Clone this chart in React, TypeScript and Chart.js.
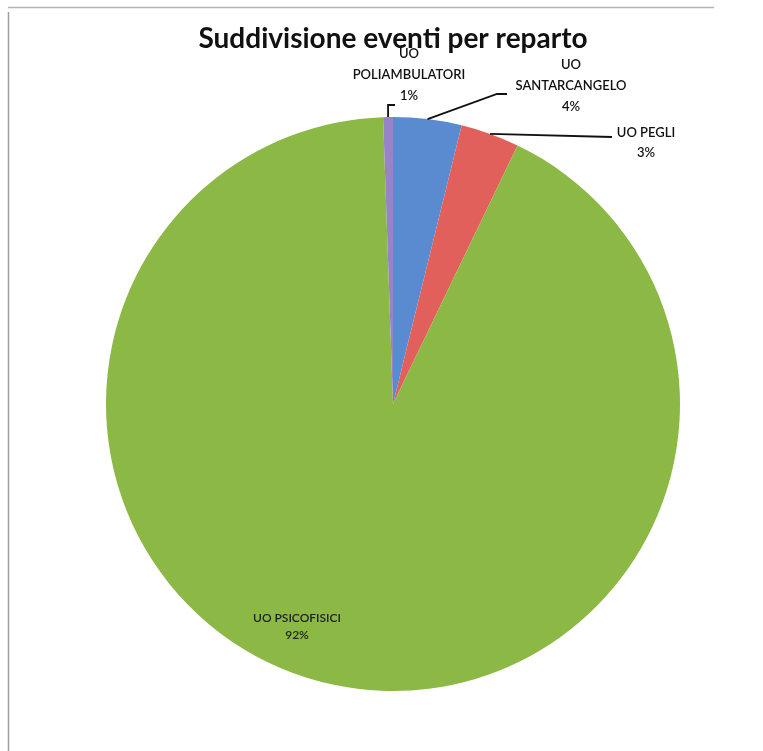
import React, { useEffect, useRef } from "react";
import { Chart, registerables } from "chart.js";

Chart.register(...registerables);

const categories = ["UO SANTARCANGELO", "UO PEGLI", "UO PSICOFISICI", "UO POLIAMBULATORI"];
const values = [7, 6, 168, 1];
const sliceColors = ["#5A8BD1", "#E2605B", "#8CB946", "#9684C6"];
const chartTitle = "Suddivisione eventi per reparto";

export default function App() {
  const ref = useRef<HTMLCanvasElement | null>(null);

  useEffect(() => {
    if (!ref.current) return;
    const total = values.reduce((a, b) => a + b, 0);
    const pct = values.map((v) => Math.round((v / total) * 100) + "%");

    // label layout (text placement & leader routing)
    const labelLayout: any[] = [
      { lines: ["UO", "SANTARCANGELO"], cx: 571, y0: 65, dy: 21, size: 13, leader: [[497, 94], [507, 94]] },
      { lines: ["UO PEGLI"], cx: 646, y0: 133, dy: 20, size: 13, leader: [[612, 137]] },
      { lines: ["UO PSICOFISICI"], cx: 297, y0: 618, dy: 17, size: 12, leader: null },
      { lines: ["UO", "POLIAMBULATORI"], cx: 409, y0: 54, dy: 21, size: 13, leader: "poli" },
    ];

    const annot = {
      id: "annot",
      afterDraw(chart: any) {
        const ctx = chart.ctx as CanvasRenderingContext2D;
        ctx.save();
        // scanned frame lines
        ctx.strokeStyle = "#b4b4b4";
        ctx.lineWidth = 1.5;
        ctx.beginPath();
        ctx.moveTo(8, 7.5);
        ctx.lineTo(714, 7.5);
        ctx.stroke();
        ctx.strokeStyle = "#a0a0a0";
        ctx.beginPath();
        ctx.moveTo(8.5, 12);
        ctx.lineTo(8.5, 751);
        ctx.stroke();

        const meta = chart.getDatasetMeta(0);
        meta.data.forEach((arc: any, i: number) => {
          const p = arc.getProps(["x", "y", "startAngle", "endAngle", "outerRadius"], true);
          const mid = (p.startAngle + p.endAngle) / 2;
          const ex = p.x + Math.cos(mid) * p.outerRadius;
          const ey = p.y + Math.sin(mid) * p.outerRadius;
          const L = labelLayout[i];
          if (L.leader) {
            ctx.strokeStyle = "#111";
            ctx.lineWidth = 1.8;
            ctx.beginPath();
            ctx.moveTo(ex, ey);
            if (L.leader === "poli") {
              ctx.lineTo(ex, 105);
              ctx.lineTo(ex + 7, 105);
            } else {
              L.leader.forEach((pt: number[]) => ctx.lineTo(pt[0], pt[1]));
            }
            ctx.stroke();
          }
          const lines = [...L.lines, pct[i]];
          ctx.fillStyle = i === 2 ? "#222" : "#111";
          ctx.font = `600 ${L.size}px Lato`;
          ctx.textAlign = "center";
          ctx.textBaseline = "middle";
          lines.forEach((t: string, k: number) => ctx.fillText(t, L.cx, L.y0 + k * L.dy));
        });

        // title
        ctx.fillStyle = "#111";
        ctx.font = "bold 28px Lato";
        ctx.textAlign = "center";
        ctx.textBaseline = "middle";
        ctx.fillText(chartTitle, 393, 39);
        ctx.restore();
      },
    };

    const chart = new Chart(ref.current, {
      type: "pie",
      data: {
        labels: categories,
        datasets: [
          {
            data: values,
            backgroundColor: sliceColors,
            borderWidth: 0,
          },
        ],
      },
      options: {
        responsive: false,
        animation: false,
        devicePixelRatio: 1,
        layout: { padding: { left: 106, right: 83, top: 117, bottom: 60 } },
        plugins: {
          legend: { display: false },
          tooltip: { enabled: false },
          title: { display: false },
        },
      },
      plugins: [annot],
    });
    return () => chart.destroy();
  }, []);

  return (
    <div style={{ position: "absolute", left: 0, top: 0, width: 763, height: 751, background: "#fff" }}>
      <canvas ref={ref} width={763} height={751} style={{ display: "block" }} />
    </div>
  );
}
